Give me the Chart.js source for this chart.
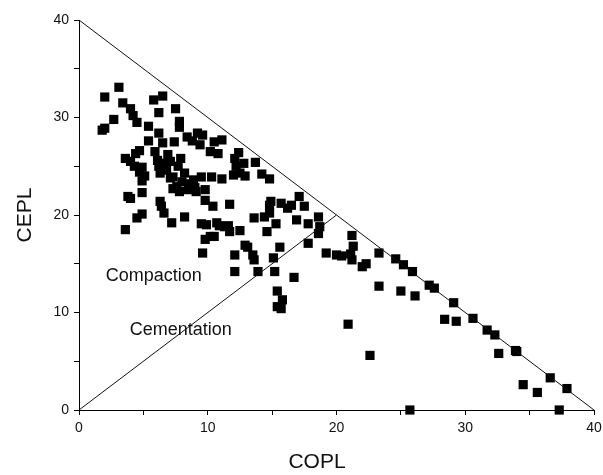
<!DOCTYPE html>
<html><head><meta charset="utf-8">
<script src="https://cdn.jsdelivr.net/npm/chart.js@4/dist/chart.umd.min.js"></script>
<style>html,body{margin:0;padding:0;background:#fff}#wrap{width:603px;height:475px}</style>
</head><body><div id="wrap"><canvas id="c" width="603" height="475"></canvas></div>
<script>
const xTitle = 'COPL';
const yTitle = 'CEPL';
const regionNames = ['Compaction', 'Cementation'];
const axisTicks = [0, 10, 20, 30, 40];

const copl = [
 2.0,3.1,3.4,4.0,4.2,4.5,2.7,2.0,1.8,5.8,6.5,6.2,7.5,5.4,7.8,7.8,6.2,5.4,6.5,7.4,
 8.4,8.8,9.2,9.6,9.4,10.2,10.5,11.1,10.8,12.4,12.1,12.8,13.7,12.2,12.0,12.9,14.2,14.8,10.3,9.5,
 8.2,11.1,8.9,4.7,4.4,3.6,4.0,4.3,4.9,5.1,5.9,6.1,6.2,6.5,6.9,7.1,6.8,7.9,7.7,6.3,
 7.3,4.9,4.7,7.1,7.6,7.8,7.3,8.5,8.0,9.0,8.6,3.8,4.0,4.9,6.3,6.4,6.6,4.9,4.5,3.6,
 7.2,8.2,9.8,9.8,9.1,10.4,11.7,9.5,9.9,10.7,10.9,11.6,12.5,10.2,10.5,9.8,9.6,12.9,13.1,13.5,
 13.6,12.1,12.1,11.7,11.3,13.6,14.4,14.6,15.3,14.9,15.7,16.2,14.8,16.5,17.1,17.5,14.8,16.9,17.8,18.6,
 18.7,18.6,17.8,15.6,15.1,13.9,15.2,15.4,15.8,15.4,15.7,16.7,12.5,19.2,20.0,20.4,21.1,21.2,21.3,21.2,
 22.0,22.3,23.3,24.6,25.2,25.9,27.2,27.6,23.3,25.0,26.1,29.1,30.6,31.7,32.3,28.4,29.3,20.9,22.6,32.6,
 33.9,34.0,36.6,37.9,34.5,35.6,25.7,37.3
];
const cepl = [
 32.1,33.1,31.5,30.9,30.2,29.5,29.8,28.9,28.7,31.8,32.2,30.5,30.9,29.1,29.6,29.0,28.4,27.6,27.4,27.5,
 28.0,27.6,28.4,28.2,27.2,26.5,27.5,27.7,26.3,26.4,25.8,25.3,25.4,25.0,24.1,24.0,24.2,23.7,23.9,23.9,
 24.3,23.7,23.6,26.6,26.3,25.8,25.5,25.0,24.9,24.0,26.5,25.6,25.0,25.3,26.2,25.5,24.6,25.8,25.0,24.3,
 23.9,23.5,24.4,23.8,22.9,22.4,22.7,22.6,23.4,22.8,23.2,21.9,21.7,22.3,21.4,20.9,20.2,20.1,19.7,18.5,
 19.2,19.8,22.6,21.5,22.4,20.9,21.1,19.1,19.0,19.2,18.9,18.9,18.4,17.8,17.8,17.5,16.1,16.9,16.7,15.9,
 15.4,15.9,14.2,18.3,18.8,19.7,19.8,18.3,19.1,21.4,21.2,20.7,21.0,21.0,21.9,20.9,20.2,19.5,19.1,19.8,
 18.8,18.1,17.1,16.7,15.6,14.2,14.2,12.2,11.3,10.6,10.4,13.6,24.3,16.1,15.9,15.8,16.0,17.9,16.8,15.4,
 14.7,15.0,16.1,15.5,14.9,14.2,12.8,12.5,12.7,12.2,11.7,11.0,9.4,8.2,7.7,9.3,9.1,8.8,5.6,5.8,
 6.1,6.0,3.3,2.2,2.6,1.8,0,0
];
const upperLineX = [0, 40];
const upperLineY = [40, 0];
const lowerLineX = [0, 20];
const lowerLineY = [0, 20];

const pts = copl.map((x, i) => ({x: x, y: cepl[i]}));
const toPts = (xs, ys) => xs.map((x, i) => ({x: x, y: ys[i]}));

const FONT = "'Liberation Sans', Arial, sans-serif";

const textPlugin = {
  id: 'texts',
  afterDraw(chart) {
    const ctx = chart.ctx;
    const xs = chart.scales.x, ys = chart.scales.y;
    ctx.save();
    ctx.fillStyle = '#111';
    ctx.textAlign = 'center';
    ctx.textBaseline = 'middle';
    ctx.font = '18px ' + FONT;
    ctx.fillText(regionNames[0], xs.getPixelForValue(5.8), ys.getPixelForValue(13.7));
    ctx.fillText(regionNames[1], xs.getPixelForValue(7.9), ys.getPixelForValue(8.2));
    ctx.font = '21px ' + FONT;
    ctx.fillText(xTitle, 317, 462);
    ctx.translate(25, 215);
    ctx.rotate(-Math.PI / 2);
    ctx.fillText(yTitle, 0, 0);
    ctx.restore();
  }
};

const axisCommon = {
  type: 'linear', min: 0, max: 40,
  ticks: {
    stepSize: 5,
    color: '#111',
    font: {family: FONT, size: 14},
    padding: 5,
    maxRotation: 0,
    autoSkip: false,
    callback: v => axisTicks.includes(v) ? String(v) : ''
  },
  grid: {display: true, drawOnChartArea: false, drawTicks: true, tickLength: 5, color: '#000', lineWidth: 1},
  border: {display: true, color: '#000', width: 1},
  title: {display: false}
};

new Chart(document.getElementById('c'), {
  type: 'scatter',
  data: {
    datasets: [
      {data: toPts(upperLineX, upperLineY), showLine: true, borderColor: '#111', borderWidth: 1, pointRadius: 0, fill: false},
      {data: toPts(lowerLineX, lowerLineY), showLine: true, borderColor: '#111', borderWidth: 1, pointRadius: 0, fill: false},
      {data: pts, pointStyle: 'rect', pointRadius: 6.5, pointHoverRadius: 6.5, backgroundColor: '#000', borderColor: '#000', borderWidth: 0, clip: false}
    ]
  },
  options: {
    responsive: false,
    animation: false,
    devicePixelRatio: 1,
    layout: {padding: {top: 20, right: 9, left: 0, bottom: 0}},
    plugins: {legend: {display: false}, tooltip: {enabled: false}},
    scales: {
      x: Object.assign({}, axisCommon, {position: 'bottom', afterFit: s => { s.height = 65; s.paddingRight = 0; s.paddingLeft = 0; }}),
      y: Object.assign({}, axisCommon, {position: 'left', afterFit: s => { s.width = 79; }})
    }
  },
  plugins: [textPlugin]
});
</script></body></html>
